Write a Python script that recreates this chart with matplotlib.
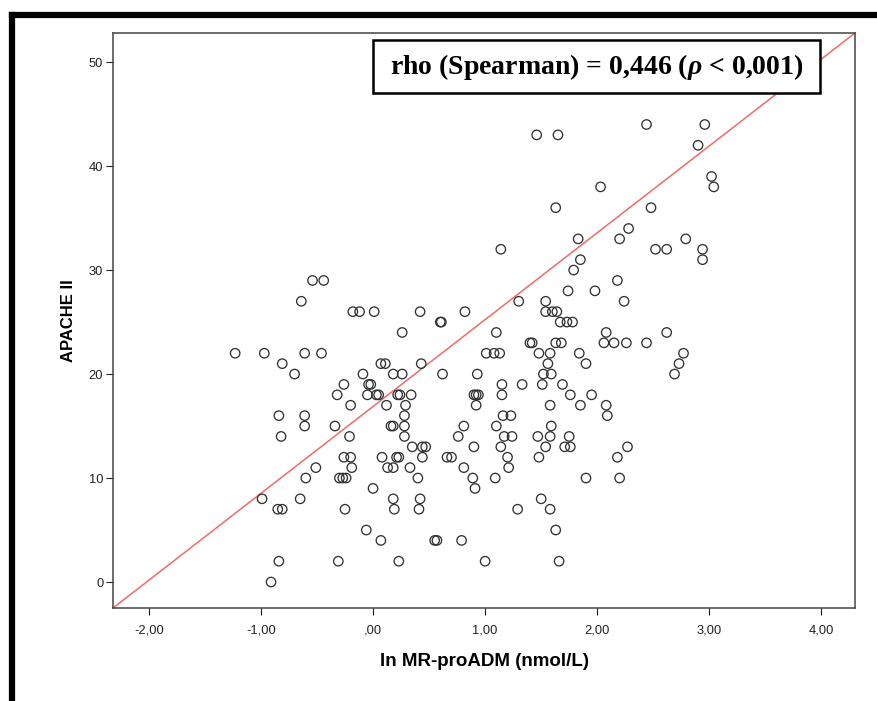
import matplotlib
matplotlib.use("Agg")
import matplotlib.pyplot as plt
from matplotlib.patches import Rectangle
from matplotlib.lines import Line2D

plt.rcParams["mathtext.fontset"] = "custom"
plt.rcParams["mathtext.it"] = "Liberation Serif:italic:bold"
plt.rcParams["mathtext.rm"] = "Liberation Serif:bold"

# APACHE II score rows and the ln MR-proADM values of the points on each row
apache_rows = {
    44: [2.44, 2.96],
    43: [1.46, 1.65],
    42: [2.90],
    39: [3.02],
    38: [2.03, 3.04],
    36: [1.63, 2.48],
    34: [2.28],
    33: [1.83, 2.20, 2.79],
    32: [1.14, 2.52, 2.62, 2.94],
    31: [1.85, 2.94],
    30: [1.79],
    29: [-0.54, -0.44, 2.18],
    28: [1.74, 1.98],
    27: [-0.64, 1.30, 1.54, 2.24],
    26: [-0.18, -0.12, 0.01, 0.42, 0.82, 1.54, 1.60, 1.64],
    25: [0.60, 0.61, 1.67, 1.73, 1.78],
    24: [0.26, 1.10, 2.08, 2.62],
    23: [1.40, 1.42, 1.63, 1.68, 2.06, 2.15, 2.26, 2.44],
    22: [-1.23, -0.97, -0.61, -0.46, 1.01, 1.08, 1.13, 1.48, 1.58, 1.84, 2.77],
    21: [-0.81, 0.07, 0.11, 0.43, 1.56, 1.90, 2.73],
    20: [-0.70, -0.09, 0.18, 0.26, 0.62, 0.93, 1.52, 1.59, 2.69],
    19: [-0.26, -0.04, -0.02, 1.15, 1.33, 1.51, 1.69],
    18: [-0.32, -0.05, 0.03, 0.05, 0.22, 0.24, 0.34, 0.90, 0.92, 0.94, 1.15, 1.76, 1.95],
    17: [-0.20, 0.12, 0.29, 0.92, 1.58, 1.85, 2.08],
    16: [-0.84, -0.61, 0.28, 1.16, 1.23, 2.09],
    15: [-0.61, -0.34, 0.16, 0.18, 0.28, 0.81, 1.10, 1.59],
    14: [-0.82, -0.21, 0.28, 0.76, 1.17, 1.24, 1.47, 1.58, 1.75],
    13: [0.35, 0.44, 0.47, 0.90, 1.14, 1.54, 1.71, 1.76, 2.27],
    12: [-0.26, -0.20, 0.08, 0.21, 0.23, 0.44, 0.66, 0.70, 1.20, 1.48, 2.18],
    11: [-0.51, -0.19, 0.13, 0.18, 0.33, 0.81, 1.21],
    10: [-0.60, -0.30, -0.27, -0.24, 0.40, 0.89, 1.09, 1.90, 2.20],
    9: [0.00, 0.91],
    8: [-0.99, -0.65, 0.18, 0.42, 1.50],
    7: [-0.85, -0.81, -0.25, 0.19, 0.41, 1.29, 1.58],
    5: [-0.06, 1.63],
    4: [0.07, 0.55, 0.57, 0.79],
    2: [-0.84, -0.31, 0.23, 1.00, 1.66],
    0: [-0.91],
}

ln_mrproadm = [x for y, xs in apache_rows.items() for x in xs]
apache = [y for y, xs in apache_rows.items() for x in xs]

x_ticks = [-2, -1, 0, 1, 2, 3, 4]
x_tick_labels = ["-2,00", "-1,00", ",00", "1,00", "2,00", "3,00", "4,00"]
y_ticks = [0, 10, 20, 30, 40, 50]
y_tick_labels = ["0", "10", "20", "30", "40", "50"]
x_limits = [-2.32, 4.30]
y_limits = [-2.5, 52.8]

annotation = "rho (Spearman) = 0,446 ($\\rho$ < 0,001)"

fig = plt.figure(figsize=(8.77, 7.01), dpi=100)
ax = fig.add_axes([113/877, 1-608/701, 742/877, 575/701])

ax.scatter(ln_mrproadm, apache, s=46, facecolors="none", edgecolors="#333333",
           linewidths=0.95, zorder=3)

# reference line (corner to corner of the plot frame)
ax.plot(x_limits, y_limits, color="#f06a6a", linewidth=1.1, zorder=2)

ax.set_xlim(x_limits)
ax.set_ylim(y_limits)
ax.set_xticks(x_ticks)
ax.set_xticklabels(x_tick_labels)
ax.set_yticks(y_ticks)
ax.set_yticklabels(y_tick_labels)
ax.tick_params(axis="both", direction="out", length=5, width=0.8, colors="#222222",
               labelsize=9.3)
ax.tick_params(axis="x", pad=7)
ax.tick_params(axis="y", pad=2)
for lab in ax.get_xticklabels() + ax.get_yticklabels():
    lab.set_fontfamily("Liberation Sans")
for sp in ax.spines.values():
    sp.set_color("#444444")
    sp.set_linewidth(1.1)

ax.set_xlabel("ln MR-proADM (nmol/L)", fontsize=13.5, fontweight="bold",
              fontfamily="Liberation Sans", labelpad=12)
ax.set_ylabel("APACHE II", fontsize=12, fontweight="bold",
              fontfamily="Liberation Sans", labelpad=9)

# annotation box
ax.add_patch(Rectangle((0.350, 0.896), 0.603, 0.092, transform=ax.transAxes,
                       facecolor="white", edgecolor="black", linewidth=1.8, zorder=5))
ax.text(0.6515, 0.940, annotation, transform=ax.transAxes, ha="center", va="center",
        fontsize=20, fontweight="bold", fontfamily="Liberation Serif", zorder=6,
        math_fontfamily="custom")

# thick figure border (top and left)
fig.add_artist(Line2D([11.5/877, 1.0], [1-15/701, 1-15/701], transform=fig.transFigure,
                      color="black", linewidth=4.5, solid_capstyle="projecting"))
fig.add_artist(Line2D([11.5/877, 11.5/877], [0.0, 1-15/701], transform=fig.transFigure,
                      color="black", linewidth=4.5, solid_capstyle="projecting"))

fig.savefig("out.png", dpi=100)
